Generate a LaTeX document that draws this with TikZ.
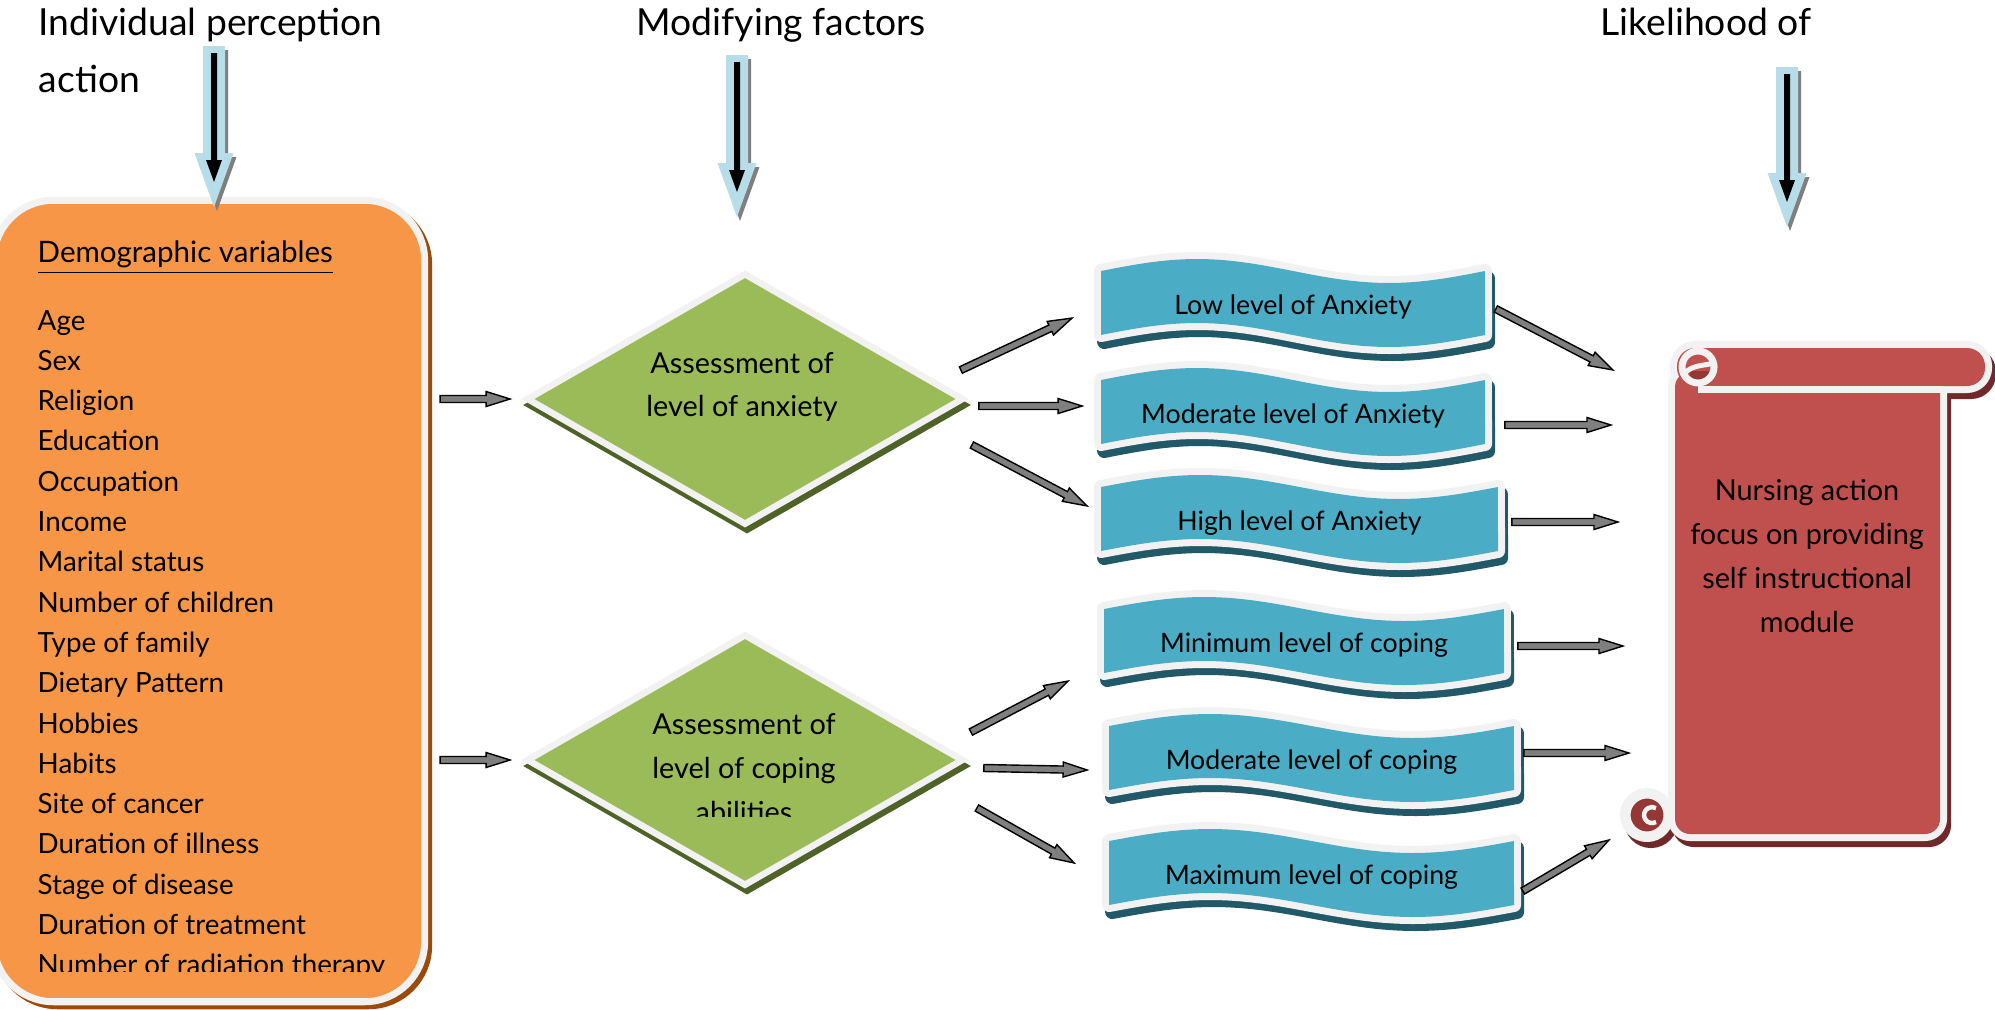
\documentclass[tikz,border=0pt]{standalone}
\usepackage{fontspec}
\setmainfont{Lato}
\usepackage{xcolor}
\definecolor{hbmorange}{HTML}{F79646}
\definecolor{hbmbrown}{HTML}{9C4A0C}
\definecolor{hbmgreen}{HTML}{9BBB59}
\definecolor{hbmolive}{HTML}{4F6228}
\definecolor{hbmblue}{HTML}{4BACC6}
\definecolor{hbmteal}{HTML}{215968}
\definecolor{hbmred}{HTML}{C0504D}
\definecolor{hbmdark}{HTML}{953735}
\definecolor{hbmmaroon}{HTML}{70292A}
\definecolor{hbmrim}{HTML}{F2F2F2}
\definecolor{hbmsky}{HTML}{B7DEE8}
\definecolor{hbmgray}{HTML}{7F7F7F}
\usetikzlibrary{arrows.meta,positioning,shapes.geometric,calc,shadows}

\tikzset{
  titletext/.style={font=\fontsize{10.6}{16.2}\selectfont, inner sep=0pt, align=left},
  headtext/.style={font=\fontsize{8.4}{11.5}\selectfont, inner sep=0pt, anchor=base west},
  vartext/.style={font=\fontsize{7.9}{11.5}\selectfont, inner sep=0pt, anchor=base west},
  bodytext/.style={font=\fontsize{8.2}{12.5}\selectfont, inner sep=0pt, align=center},
  level/.style={font=\fontsize{7.6}{10}\selectfont, inner sep=0pt, minimum height=0.64cm, minimum width=#1},
  rim/.style={draw=hbmrim, line join=round},
  demobox/.style={rectangle, rounded corners=0.6cm, fill=hbmorange, draw=hbmrim, line width=0.07cm,
    minimum width=4.31cm, minimum height=8.01cm,
    general shadow={fill=hbmbrown, draw=hbmbrown, line width=0.07cm, shadow xshift=0.04cm, shadow yshift=-0.04cm}},
  assess/.style={diamond, fill=hbmgreen, draw=hbmrim, line width=0.065cm, inner sep=0pt,
    minimum width=4.37cm, minimum height=2.52cm,
    general shadow={fill=hbmolive, draw=hbmolive, line width=0.065cm, shadow xshift=0.02cm, shadow yshift=-0.06cm}},
  connector/.style={draw=black, fill=hbmgray, line width=0.4pt, line join=miter}
}

%% wavy ribbon: left, top, width
\newcommand{\wavepath}[3]{plot[domain=0:1,samples=41] ({#1+#3*\x},{#2-12*sin(360*\x)})
  -- plot[domain=1:0,samples=41] ({#1+#3*\x},{#2+64-12*sin(360*\x)}) -- cycle}
\newcommand{\wavebanner}[3]{%
  \filldraw[fill=hbmteal, draw=hbmteal, line width=0.14cm, line join=round, shift={(3,7)}] \wavepath{#1}{#2}{#3};
  \draw[rim, line width=0.14cm] \wavepath{#1}{#2}{#3};
  \fill[hbmblue] \wavepath{#1}{#2}{#3};}

%% scroll pieces
\newcommand{\scrollshapes}[1]{%
  \path[#1, rounded corners=0.18cm] (1677,348) rectangle (1985,386);
  \path[#1, rounded corners=0.15cm] (1675,372) rectangle (1940,834);
  \path[#1] (1698,367) circle[radius=16];
  \path[#1] (1647,815) circle[radius=20];}

%% light blue cue arrow: x, top, tip
\newcommand{\cuearrow}[3]{%
  \fill[hbmgray, shift={(3,4)}] ({#1-11},#2) -- ({#1+11},#2) -- ({#1+11},{#3-54}) -- ({#1+19.5},{#3-54})
    -- (#1,#3) -- ({#1-19.5},{#3-54}) -- ({#1-11},{#3-54}) -- cycle;
  \fill[hbmsky] ({#1-11},#2) -- ({#1+11},#2) -- ({#1+11},{#3-54}) -- ({#1+19.5},{#3-54})
    -- (#1,#3) -- ({#1-19.5},{#3-54}) -- ({#1-11},{#3-54}) -- cycle;
  \fill[black] ({#1-3},{#2+7}) -- ({#1+3},{#2+7}) -- ({#1+3},{#3-47}) -- ({#1+8},{#3-47})
    -- (#1,{#3-25}) -- ({#1-8},{#3-47}) -- ({#1-3},{#3-47}) -- cycle;}

%% grey block arrow between two points
\newcommand{\blockarrow}[2]{%
  \path let \p1=(#1), \p2=(#2) in
    \pgfextra{%
      \pgfmathparse{atan2(\y2-\y1,\x2-\x1)}\xdef\arrang{\pgfmathresult}%
      \pgfmathparse{veclen(\x2-\x1,\y2-\y1)/0.284528}\xdef\arrlen{\pgfmathresult}%
      \xdef\arrx{\x1}\xdef\arry{\y1}};
  \draw[connector, shift={(\arrx,\arry)}, rotate=\arrang]
    (0,-3.5) -- ({\arrlen-24},-3.5) -- ({\arrlen-24},-7.5) -- (\arrlen,0)
    -- ({\arrlen-24},7.5) -- ({\arrlen-24},3.5) -- (0,3.5) -- cycle;}

\begin{document}
\begin{tikzpicture}[x=0.01cm, y=-0.01cm]
  \useasboundingbox (0,0) rectangle (1995,1009);

  %% demographic variables
  \node[demobox] (demo) at (209,601) {};
  \node[headtext] (demohead) at (37,262) {\underline{Demographic variables}};
  \begin{scope}
    \clip (0,280) rectangle (420,971);
    \foreach \v [count=\i from 0] in {Age,Sex,Religion,Education,Occupation,Income,Marital status,
        Number of children,Type of family,Dietary Pattern,Hobbies,Habits,Site of cancer,
        Duration of illness,Stage of disease,Duration of treatment,Number of radiation therapy}
      \node[vartext] (var\i) at (37,{330+40.3*\i}) {\v};
  \end{scope}

  %% assessments
  \node[assess] (anx) at (745,399) {};
  \node[bodytext] (anxtxt) at (742,387) {Assessment of\\level of anxiety};
  \node[assess] (cop) at (745,760) {};
  \begin{scope}
    \clip (600,600) rectangle (900,816);
    \node[bodytext] (coptxt) at (744,768) {Assessment of\\level of coping\\abilities};
  \end{scope}

  %% levels
  \wavebanner{1101}{271}{384}
  \node[level=3.84cm] (low) at (1293,307) {Low level of Anxiety};
  \wavebanner{1101}{380}{384}
  \node[level=3.84cm] (modanx) at (1293,416) {Moderate level of Anxiety};
  \wavebanner{1101}{487}{397}
  \node[level=3.97cm] (high) at (1299.5,523) {High level of Anxiety};
  \wavebanner{1104}{609}{400}
  \node[level=4cm] (mincop) at (1304,645) {Minimum level of coping};
  \wavebanner{1109}{726}{405}
  \node[level=4.05cm] (modcop) at (1311.5,762) {Moderate level of coping};
  \wavebanner{1109}{841}{405}
  \node[level=4.05cm] (maxcop) at (1311.5,877) {Maximum level of coping};

  %% nursing action scroll
  \scrollshapes{fill=hbmmaroon, draw=hbmmaroon, line width=0.14cm, shift={(4,6)}}
  \scrollshapes{rim, line width=0.14cm}
  \scrollshapes{fill=hbmred}
  \draw[rim, line width=0.07cm] (1698,389.5) -- (1943,389.5);
  \fill[hbmdark] (1709,371) arc[start angle=0, end angle=180, radius=10] -- cycle;
  \draw[rim, line width=0.07cm] (1698,367) circle[radius=16];
  \draw[rim, line width=0.05cm] (1684,374) .. controls (1692,364) and (1706,366) .. (1713,363);
  \filldraw[fill=hbmdark, rim, line width=0.07cm] (1647,815) circle[radius=20];
  \draw[rim, line width=0.045cm] (1656,822) arc[start angle=60, end angle=300, radius=8];
  \draw[rim, line width=0.02cm] (1665,796) -- (1665,808);
  \node[bodytext] (nursetxt) at (1807,556) {Nursing action\\focus on providing\\self instructional\\module};
  \coordinate (in1) at (1613,370);
  \coordinate (in2) at (1611,425);
  \coordinate (in3) at (1618,522);
  \coordinate (in4) at (1623,646);
  \coordinate (in5) at (1629,753);
  \coordinate (in6) at (1609,840);

  %% connectors
  \blockarrow{$(demo.east |- anx)+(12,0)$}{$(anx.west)+(-13,0)$}
  \blockarrow{$(demo.east |- cop)+(12,0)$}{$(cop.west)+(-13,0)$}
  \blockarrow{$(anx.east)+(-6,-29)$}{$(low.west)+(-28,11)$}
  \blockarrow{$(anx.east)+(12,7)$}{$(modanx.west)+(-18,-10)$}
  \blockarrow{$(anx.east)+(5,46)$}{$(high.west)+(-13,-17)$}
  \blockarrow{$(cop.east)+(4,-28)$}{$(mincop.west)+(-35,36)$}
  \blockarrow{$(cop.east)+(17,8)$}{$(modcop.west)+(-21,8)$}
  \blockarrow{$(cop.east)+(10,48)$}{$(maxcop.west)+(-34,-14)$}
  \blockarrow{$(low.east)+(10,2)$}{in1}
  \blockarrow{$(modanx.east)+(19,9)$}{in2}
  \blockarrow{$(high.east)+(13,-1)$}{in3}
  \blockarrow{$(mincop.east)+(13,1)$}{in4}
  \blockarrow{$(modcop.east)+(9,-9)$}{in5}
  \blockarrow{$(maxcop.east)+(8,14)$}{in6}

  %% headings with their cue arrows
  \node[titletext, anchor=base west] (perc) at (38,92) {Individual perception\\action};
  \node[titletext, anchor=base west] (modf) at (636,35) {Modifying factors};
  \node[titletext, anchor=base west] (likely) at (1600,35) {Likelihood of};
  \cuearrow{214}{46}{207}
  \cuearrow{737}{55}{217}
  \cuearrow{1787}{67}{227}
\end{tikzpicture}
\end{document}
